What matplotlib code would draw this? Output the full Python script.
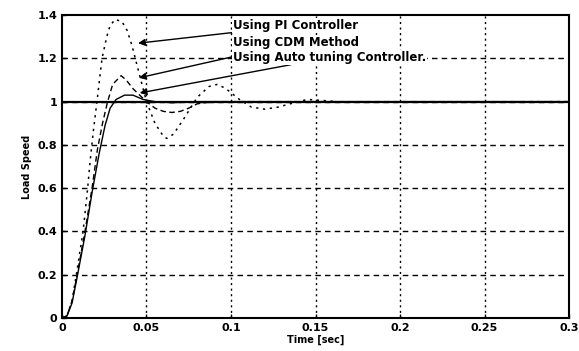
import matplotlib
matplotlib.use("Agg")
import matplotlib.pyplot as plt

# ---------------------------------------------------------------------
# Step response data
# ---------------------------------------------------------------------
t_pi = [0, 0.003, 0.006, 0.0085, 0.0105, 0.0125, 0.0152, 0.0166, 0.0185,
        0.0207, 0.0237, 0.0265, 0.0284, 0.0314, 0.0355, 0.0385, 0.0414,
        0.045, 0.05, 0.055, 0.06, 0.062, 0.066, 0.072, 0.08, 0.087, 0.092,
        0.097, 0.105, 0.112, 0.12, 0.128, 0.135, 0.145, 0.155, 0.165, 0.3]
v_pi = [0, 0.01, 0.08, 0.2, 0.3, 0.4, 0.6, 0.72, 0.86,
        1.0, 1.2, 1.3, 1.35, 1.38, 1.37, 1.33, 1.26,
        1.15, 1.0, 0.9, 0.84, 0.83, 0.85, 0.92, 1.02, 1.07, 1.08,
        1.06, 1.01, 0.975, 0.965, 0.975, 0.99, 1.01, 1.005, 0.998, 1.0]

t_cdm = [0, 0.003, 0.006, 0.009, 0.0136, 0.0178, 0.021, 0.024, 0.027,
         0.030, 0.035, 0.038, 0.042, 0.046, 0.05, 0.055, 0.06, 0.065,
         0.07, 0.075, 0.08, 0.09, 0.1, 0.3]
v_cdm = [0, 0.01, 0.08, 0.2, 0.4, 0.6, 0.78, 0.9, 1.0,
         1.08, 1.12, 1.1, 1.06, 1.03, 1.0, 0.97, 0.955, 0.95,
         0.955, 0.97, 0.99, 1.0, 1.0, 1.0]

t_auto = [0, 0.003, 0.006, 0.009, 0.0136, 0.0178, 0.022, 0.0255, 0.0285,
          0.032, 0.037, 0.042, 0.048, 0.055, 0.065, 0.08, 0.3]
v_auto = [0, 0.01, 0.07, 0.19, 0.38, 0.58, 0.76, 0.89, 0.97,
          1.01, 1.03, 1.03, 1.01, 1.0, 0.995, 1.0, 1.0]

t_ref = [0, 0.3]
v_ref = [1.0, 1.0]

x_ticks = [0, 0.05, 0.1, 0.15, 0.2, 0.25, 0.3]
x_labels = ["0", "0.05", "0.1", "0.15", "0.2", "0.25", "0.3"]
y_ticks = [0, 0.2, 0.4, 0.6, 0.8, 1.0, 1.2, 1.4]
y_labels = ["0", "0.2", "0.4", "0.6", "0.8", "1", "1.2", "1.4"]

# annotation labels, arrow tips and text anchors (data coords)
labels = ["Using PI Controller", "Using CDM Method", "Using Auto tuning Controller."]
tips = [(0.045, 1.27), (0.0455, 1.11), (0.046, 1.04)]
anchors = [(0.101, 1.352), (0.101, 1.273), (0.101, 1.204)]

# ---------------------------------------------------------------------
# Plot
# ---------------------------------------------------------------------
fig = plt.figure(figsize=(5.79, 3.51), dpi=100)
ax = fig.add_axes([0.107, 0.094, 0.876, 0.863])

ax.plot(t_ref, v_ref, color="black", lw=1.6)
ax.plot(t_pi, v_pi, color="black", lw=1.1, ls=(0, (1.5, 3)))
ax.plot(t_cdm, v_cdm, color="black", lw=1.0, ls=(0, (4, 2.5)))
ax.plot(t_auto, v_auto, color="black", lw=1.0)

ax.set_xlim(0, 0.3)
ax.set_ylim(0, 1.4)
ax.set_xticks(x_ticks)
ax.set_xticklabels(x_labels, fontsize=8, fontweight="bold")
ax.set_yticks(y_ticks)
ax.set_yticklabels(y_labels, fontsize=8, fontweight="bold")
ax.tick_params(direction="in", length=3, width=1)

# grid: dashed horizontals, dotted verticals
for y in y_ticks[1:-1]:
    ax.axhline(y, color="black", lw=1.0, ls=(0, (4, 3)), zorder=0)
for x in x_ticks[1:-1]:
    ax.axvline(x, color="black", lw=1.0, ls=(0, (1.5, 2.5)), zorder=0)

for s in ax.spines.values():
    s.set_linewidth(1.5)

ax.set_xlabel("Time [sec]", fontsize=7, fontweight="bold", labelpad=1)
ax.set_ylabel("Load Speed", fontsize=7, fontweight="bold", labelpad=4)

for lab, tip, anc in zip(labels, tips, anchors):
    ax.annotate(lab, xy=tip, xytext=anc, fontsize=8.5, fontweight="bold",
                va="center", ha="left",
                bbox=dict(fc="white", ec="none", pad=0.5),
                arrowprops=dict(arrowstyle="-|>", color="black", lw=1.0,
                                mutation_scale=10, shrinkA=0, shrinkB=0))

plt.savefig("out.png", dpi=100)
plt.close()
